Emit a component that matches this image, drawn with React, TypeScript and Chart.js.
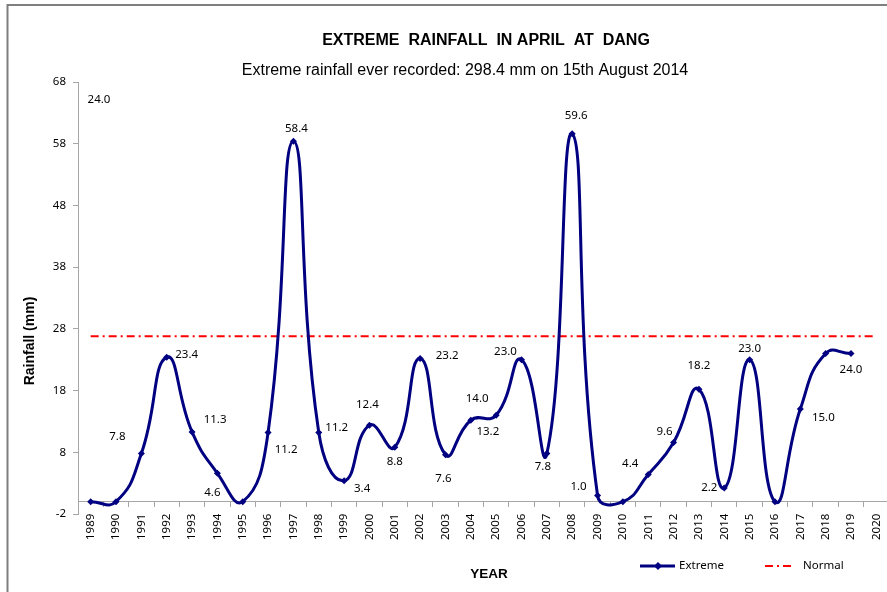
import React, { useEffect, useRef } from "react";
import { Chart, registerables } from "chart.js";

Chart.register(...registerables);

const years: string[] = [
  "1989", "1990", "1991", "1992", "1993", "1994", "1995", "1996", "1997", "1998",
  "1999", "2000", "2001", "2002", "2003", "2004", "2005", "2006", "2007", "2008",
  "2009", "2010", "2011", "2012", "2013", "2014", "2015", "2016", "2017", "2018",
  "2019", "2020",
];

const extremeRain: (number | null)[] = [
  0, 0, 7.8, 23.4, 11.3, 4.6, 0, 11.2, 58.4, 11.2,
  3.4, 12.4, 8.8, 23.2, 7.6, 13.2, 14.0, 23.0, 7.8, 59.6,
  1.0, 0, 4.4, 9.6, 18.2, 2.2, 23.0, 0, 15.0, 24.0,
  24.0, null,
];

const normalRain: number[] = [
  26.8, 26.8, 26.8, 26.8, 26.8, 26.8, 26.8, 26.8, 26.8, 26.8,
  26.8, 26.8, 26.8, 26.8, 26.8, 26.8, 26.8, 26.8, 26.8, 26.8,
  26.8, 26.8, 26.8, 26.8, 26.8, 26.8, 26.8, 26.8, 26.8, 26.8,
  26.8, 26.8,
];

const yTickValues: number[] = [-2, 8, 18, 28, 38, 48, 58, 68];

const titleText = "EXTREME  RAINFALL  IN APRIL  AT  DANG";
const subtitleText = "Extreme rainfall ever recorded: 298.4 mm on 15th August 2014";
const yTitle = "Rainfall (mm)";
const xTitle = "YEAR";

// label placement (pixel offsets of label centre from its point), layout only
const labelOffsets: ([number, number] | null)[] = [
  null, null, [-24, -17], [20, -3], [23, -12], [-5, 19], null, [18, 17], [3, -13], [18, -5],
  [18, 8], [-2, -20], [0, 14], [27, -3], [-2, 24], [17, 12], [-19, -17], [-16, -8], [-4, 13], [4, -18],
  [-19, -9], null, [-18, -11], [-9, -11], [0, -24], [-15, 0], [0, -11], null, [23, 9], null,
  [0, 16], null,
];
const strayLabelIndex = 29;
const strayLabelPos: [number, number] = [21, 18];

const FONT = "'Noto Sans', sans-serif";
const ARIAL = "'Liberation Sans', Arial, sans-serif";
const NAVY = "#000080";

const decorPlugin = {
  id: "decor",
  afterDatasetsDraw(chart: any) {
    const ctx = chart.ctx as CanvasRenderingContext2D;
    const meta = chart.getDatasetMeta(0);
    const area = chart.chartArea;
    ctx.save();
    ctx.fillStyle = "#000";
    ctx.font = `11.5px ${FONT}`;
    ctx.textAlign = "center";
    ctx.textBaseline = "middle";
    extremeRain.forEach((v, i) => {
      if (v === null) return;
      const el = meta.data[i];
      if (!el) return;
      const txt = (v as number).toFixed(1);
      if (i === strayLabelIndex) {
        ctx.fillText(txt, area.left + strayLabelPos[0], area.top + strayLabelPos[1]);
        return;
      }
      const off = labelOffsets[i];
      if (!off) return;
      ctx.fillText(txt, el.x + off[0], el.y + off[1]);
    });
    ctx.restore();
  },
  afterDraw(chart: any) {
    const ctx = chart.ctx as CanvasRenderingContext2D;
    ctx.save();
    // frame
    ctx.strokeStyle = "#7f7f7f";
    ctx.lineWidth = 2;
    ctx.strokeRect(7.5, 5, 900, 620);
    // titles
    ctx.fillStyle = "#000";
    ctx.textAlign = "center";
    ctx.textBaseline = "middle";
    ctx.font = `bold 16px ${ARIAL}`;
    ctx.fillText(titleText, 486, 41);
    ctx.font = `16px ${ARIAL}`;
    ctx.fillText(subtitleText, 465, 71);
    ctx.font = `bold 13.5px ${ARIAL}`;
    ctx.fillText(xTitle, 489, 574);
    ctx.save();
    ctx.translate(30, 341);
    ctx.rotate(-Math.PI / 2);
    ctx.font = `bold 14px ${ARIAL}`;
    ctx.fillText(yTitle, 0, 0);
    ctx.restore();
    // legend
    const ly = 566;
    ctx.strokeStyle = NAVY;
    ctx.lineWidth = 3;
    ctx.beginPath();
    ctx.moveTo(640, ly);
    ctx.lineTo(675, ly);
    ctx.stroke();
    ctx.fillStyle = NAVY;
    ctx.beginPath();
    ctx.moveTo(658, ly - 4);
    ctx.lineTo(662, ly);
    ctx.lineTo(658, ly + 4);
    ctx.lineTo(654, ly);
    ctx.closePath();
    ctx.fill();
    ctx.strokeStyle = "#ff0000";
    ctx.lineWidth = 2;
    ctx.setLineDash([8, 4, 2, 4]);
    ctx.beginPath();
    ctx.moveTo(765, ly);
    ctx.lineTo(795, ly);
    ctx.stroke();
    ctx.setLineDash([]);
    ctx.fillStyle = "#000";
    ctx.textAlign = "left";
    ctx.font = `11.5px ${FONT}`;
    ctx.fillText("Extreme", 679, ly);
    ctx.fillText("Normal", 803, ly);
    ctx.restore();
  },
};

export default function App() {
  const ref = useRef<HTMLCanvasElement | null>(null);
  useEffect(() => {
    if (!ref.current) return;
    const tickFont = { family: FONT, size: 11.5 };
    const chart = new Chart(ref.current, {
      type: "line",
      data: {
        labels: years,
        datasets: [
          {
            label: "Extreme",
            data: extremeRain,
            borderColor: NAVY,
            backgroundColor: NAVY,
            borderWidth: 3,
            tension: 0.5,
            pointStyle: "rectRot",
            pointRadius: 3.5,
            pointBorderWidth: 0,
            pointBackgroundColor: NAVY,
            spanGaps: false,
          },
          {
            label: "Normal",
            data: normalRain,
            borderColor: "#ff0000",
            borderWidth: 2,
            borderDash: [8, 4, 2, 4],
            pointRadius: 0,
            tension: 0,
          },
        ],
      },
      options: {
        responsive: false,
        animation: false,
        layout: { padding: { top: 82, bottom: 78, left: 0, right: 0 } },
        elements: { line: { capBezierPoints: false } },
        plugins: {
          legend: { display: false },
          tooltip: { enabled: false },
          title: { display: false },
        },
        scales: {
          x: {
            type: "category",
            position: { y: 0 } as any,
            offset: true,
            afterFit: (s: any) => {
              s.paddingLeft = 0;
              s.paddingRight = 0;
            },
            grid: {
              display: true,
              drawOnChartArea: false,
              drawTicks: true,
              tickLength: 5,
              offset: true,
              color: "#a6a6a6",
            },
            border: { display: true, color: "#a6a6a6", width: 1 },
            ticks: {
              minRotation: 90,
              maxRotation: 90,
              autoSkip: false,
              padding: 7,
              color: "#000",
              font: tickFont,
            },
          },
          y: {
            min: -2,
            max: 68,
            afterBuildTicks: (s: any) => {
              s.ticks = yTickValues.map((v) => ({ value: v }));
            },
            afterFit: (s: any) => {
              s.width = 78;
            },
            grid: {
              display: true,
              drawOnChartArea: false,
              drawTicks: true,
              tickLength: 5,
              color: "#a6a6a6",
            },
            border: { display: true, color: "#a6a6a6", width: 1 },
            ticks: { padding: 7, color: "#000", font: tickFont },
          },
        },
      },
      plugins: [decorPlugin],
    });
    return () => chart.destroy();
  }, []);
  return (
    <div
      style={{
        position: "fixed",
        left: 0,
        top: 0,
        width: 887,
        height: 592,
        overflow: "hidden",
        background: "#fff",
      }}
    >
      <canvas ref={ref} width={893} height={592} style={{ display: "block" }} />
    </div>
  );
}
